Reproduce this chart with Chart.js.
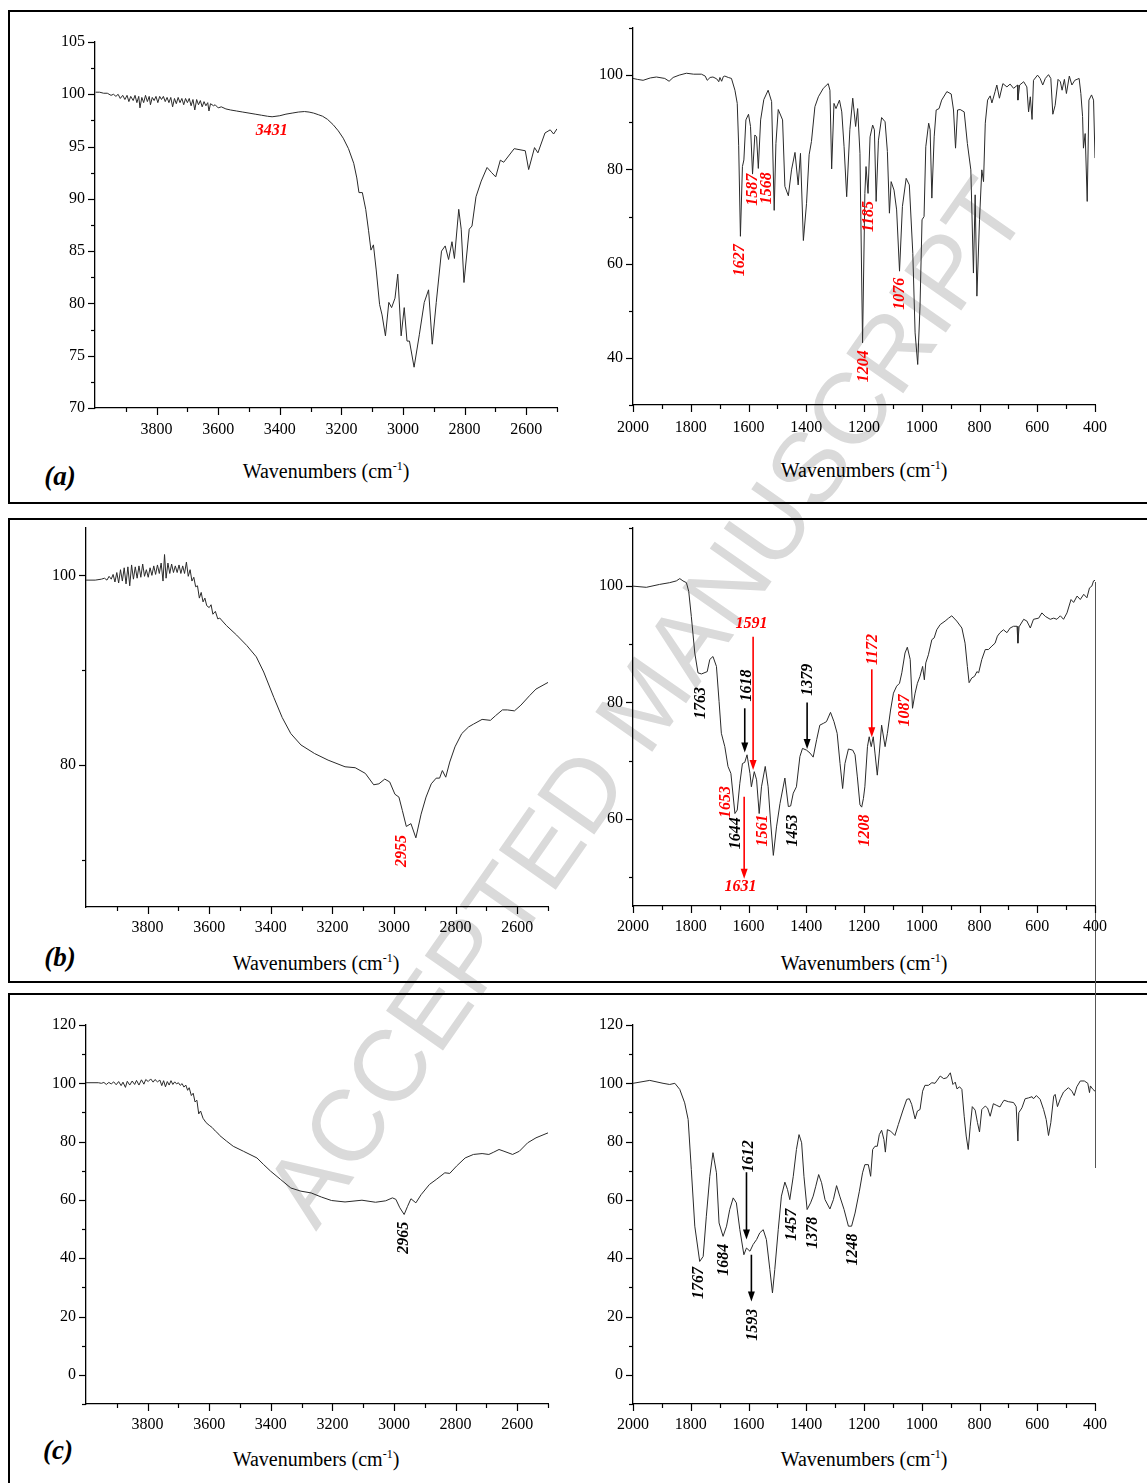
<!DOCTYPE html>
<html>
<head>
<meta charset="utf-8">
<script src="https://cdn.jsdelivr.net/npm/chart.js@4.4.1/dist/chart.umd.min.js"></script>
<style>
  body { margin: 0; width: 1147px; height: 1483px; position: relative; overflow: hidden; background: #fff; font-family: "Liberation Serif", serif; }
  .box { position: absolute; border: 2.5px solid #000; box-sizing: border-box; }
  canvas { position: absolute; }
  .title { position: absolute; font-size: 20px; white-space: nowrap; transform: translate(-50%, -50%); color: #000; }
  .title sup { font-size: 12px; }
  .tag { position: absolute; font: italic bold 27px "Liberation Serif", serif; transform: translate(-50%, -50%); }
  .wm { position: absolute; left: 645px; top: 702px; transform: translate(-50%, -50%) rotate(-55deg); font: 101px "Liberation Sans", sans-serif; color: #dadada; white-space: nowrap; }
  .artifact { position: absolute; left: 1095px; top: 582px; width: 1px; height: 586px; background: #555; }
</style>
</head>
<body>
<div class="wm">ACCEPTED MANUSCRIPT</div>
<div class="box" style="left:8px; top:10px; width:1150px; height:494px;"></div>
<div class="box" style="left:8px; top:518px; width:1150px; height:465px;"></div>
<div class="box" style="left:8px; top:993px; width:1150px; height:500px;"></div>
<div class="artifact"></div>

<div class="tag" style="left:60px; top:476px;">(a)</div>
<div class="tag" style="left:60px; top:957px;">(b)</div>
<div class="tag" style="left:58px; top:1450px;">(c)</div>

<div class="title" style="left:326px; top:471px;">Wavenumbers (cm<sup>-1</sup>)</div>
<div class="title" style="left:864px; top:470px;">Wavenumbers (cm<sup>-1</sup>)</div>
<div class="title" style="left:316px; top:963px;">Wavenumbers (cm<sup>-1</sup>)</div>
<div class="title" style="left:864px; top:963px;">Wavenumbers (cm<sup>-1</sup>)</div>
<div class="title" style="left:316px; top:1459px;">Wavenumbers (cm<sup>-1</sup>)</div>
<div class="title" style="left:864px; top:1459px;">Wavenumbers (cm<sup>-1</sup>)</div>

<script>
// spectra: [wavenumber, transmittance]
const specALeft = [[3998,100.2],[3985,100.2],[3972,100.1],[3960,100.1],[3948,99.9],[3940,100.0],[3932,99.8],[3925,100.0],[3918,99.6],[3910,99.9],[3903,99.5],[3896,99.9],[3890,99.3],[3884,99.8],[3876,99.4],[3870,99.9],[3864,99.2],[3858,99.8],[3854,98.7],[3848,99.7],[3842,99.2],[3836,99.9],[3830,99.3],[3824,99.8],[3820,99.0],[3814,99.7],[3808,99.4],[3802,99.8],[3796,99.2],[3790,99.8],[3784,99.5],[3778,99.8],[3772,99.3],[3766,99.7],[3760,99.2],[3754,99.7],[3748,98.8],[3742,99.6],[3736,99.1],[3730,99.7],[3724,99.2],[3718,99.6],[3712,99.0],[3706,99.6],[3700,99.2],[3694,99.6],[3688,98.9],[3682,99.5],[3676,98.5],[3670,99.5],[3664,99.0],[3658,99.4],[3652,98.8],[3646,99.3],[3640,98.9],[3634,99.2],[3630,98.4],[3625,99.1],[3615,98.9],[3610,99.0],[3600,98.7],[3590,98.8],[3575,98.6],[3560,98.5],[3540,98.4],[3520,98.3],[3500,98.2],[3480,98.1],[3460,98.0],[3440,97.9],[3425,97.85],[3400,97.95],[3380,98.1],[3360,98.2],[3340,98.3],[3320,98.35],[3305,98.3],[3290,98.2],[3275,98.05],[3261,97.9],[3245,97.6],[3227,97.1],[3210,96.5],[3194,95.8],[3177,94.8],[3160,93.4],[3150,92.0],[3143,90.6],[3132,90.6],[3121,89.0],[3112,87.0],[3104,85.1],[3096,85.6],[3087,83.2],[3076,79.9],[3068,78.9],[3057,76.9],[3046,80.1],[3037,79.6],[3026,80.5],[3017,82.8],[3006,76.9],[2996,79.6],[2987,76.4],[2979,76.4],[2964,73.9],[2947,77.0],[2931,80.1],[2917,81.3],[2905,76.1],[2892,80.1],[2875,85.0],[2863,85.5],[2852,84.2],[2841,85.9],[2833,84.3],[2819,89.0],[2811,87.1],[2802,82.0],[2785,87.1],[2776,87.4],[2763,90.2],[2746,91.7],[2727,93.0],[2712,92.5],[2699,92.1],[2684,93.7],[2673,93.5],[2639,94.8],[2603,94.6],[2592,92.8],[2573,94.9],[2562,94.4],[2539,96.3],[2522,96.6],[2511,96.2],[2500,96.7]];

const specARight = [[2000,99.3],[1985,99.1],[1965,98.9],[1940,99.4],[1919,99.6],[1890,99.3],[1875,98.7],[1861,99.5],[1840,100.0],[1815,100.4],[1790,100.2],[1763,100.2],[1750,99.8],[1743,98.9],[1733,99.5],[1723,99.6],[1710,99.2],[1703,98.6],[1699,99.5],[1693,98.7],[1687,99.7],[1682,99.8],[1670,99.5],[1659,99.3],[1647,96.8],[1639,94.0],[1634,85.0],[1628,65.8],[1621,80.6],[1616,82.0],[1609,90.5],[1600,91.7],[1593,89.1],[1586,79.0],[1578,87.3],[1572,86.9],[1566,80.2],[1558,90.5],[1547,94.8],[1532,96.8],[1520,94.4],[1511,71.3],[1505,85.5],[1497,92.7],[1482,90.5],[1474,76.4],[1462,74.4],[1451,79.9],[1439,83.6],[1428,76.7],[1420,83.4],[1410,64.9],[1399,72.8],[1390,83.1],[1382,85.9],[1370,93.3],[1358,95.4],[1341,97.2],[1324,98.2],[1318,96.8],[1312,80.1],[1304,94.0],[1297,92.9],[1285,94.7],[1277,92.2],[1269,84.8],[1260,74.2],[1249,88.4],[1239,95.1],[1229,89.1],[1222,92.9],[1214,83.4],[1205,43.2],[1197,74.9],[1193,80.6],[1186,74.9],[1179,86.9],[1170,89.4],[1164,88.4],[1158,73.2],[1150,86.2],[1139,91.0],[1127,90.1],[1119,83.8],[1112,70.7],[1106,77.4],[1096,75.6],[1087,71.4],[1077,58.4],[1067,72.1],[1054,78.1],[1043,76.7],[1031,62.2],[1023,45.3],[1014,38.6],[1006,51.0],[999,69.3],[992,70.0],[986,84.8],[976,89.8],[971,88.4],[965,73.9],[957,86.9],[950,92.6],[940,92.9],[931,94.7],[913,96.5],[898,96.0],[890,92.6],[883,84.5],[876,92.6],[867,92.7],[853,92.2],[842,85.5],[830,79.9],[821,58.0],[815,74.6],[809,53.1],[800,69.3],[792,79.9],[786,77.4],[780,89.8],[772,94.7],[763,95.6],[757,94.1],[746,96.5],[740,97.9],[731,95.1],[719,98.2],[705,97.5],[694,98.1],[682,97.2],[668,97.9],[667,94.7],[661,97.9],[647,98.6],[636,97.5],[630,92.2],[624,95.4],[618,90.6],[613,98.9],[599,100.0],[590,99.3],[581,97.9],[572,99.3],[561,100.1],[553,99.3],[546,91.7],[538,93.6],[528,99.1],[520,98.6],[514,96.8],[506,99.1],[499,96.1],[489,99.8],[480,97.9],[470,98.9],[455,99.3],[449,96.1],[443,91.2],[440,84.5],[434,87.6],[427,73.2],[421,94.7],[412,95.8],[405,94.7],[400,82.4]];

const specBLeft = [[4000,99.5],[3970,99.5],[3950,99.6],[3940,99.7],[3932,99.5],[3925,99.9],[3918,99.6],[3912,100.1],[3906,99.3],[3900,100.3],[3894,99.2],[3888,100.6],[3882,99.4],[3876,100.8],[3870,99.1],[3864,100.9],[3858,98.9],[3852,101.1],[3846,99.6],[3840,100.9],[3834,99.7],[3828,101.0],[3822,99.8],[3816,101.2],[3810,99.9],[3804,100.6],[3798,99.8],[3792,100.8],[3786,100.0],[3780,101.0],[3774,100.1],[3768,101.1],[3762,100.2],[3756,101.3],[3750,99.4],[3745,102.2],[3740,99.7],[3734,101.3],[3728,100.2],[3722,101.2],[3716,100.3],[3710,101.0],[3704,100.3],[3698,101.1],[3692,100.2],[3686,101.0],[3680,100.2],[3674,101.4],[3668,99.9],[3662,100.6],[3656,99.4],[3650,99.8],[3644,98.8],[3638,98.9],[3632,97.6],[3626,98.2],[3620,97.2],[3614,97.6],[3608,96.8],[3600,96.6],[3594,96.9],[3588,95.9],[3580,96.2],[3572,95.4],[3566,95.5],[3544,94.7],[3511,93.7],[3478,92.6],[3447,91.4],[3423,89.8],[3390,87.1],[3363,85.0],[3335,83.3],[3302,82.1],[3258,81.2],[3214,80.5],[3159,79.8],[3126,79.7],[3093,79.1],[3066,77.9],[3049,78.0],[3030,78.5],[3014,78.2],[2997,76.9],[2984,76.6],[2973,75.2],[2960,73.5],[2945,73.8],[2929,72.3],[2912,74.8],[2896,76.6],[2879,78.0],[2863,78.6],[2852,78.6],[2843,79.4],[2832,78.7],[2819,80.3],[2802,81.9],[2780,83.3],[2758,84.0],[2742,84.3],[2714,84.8],[2687,84.7],[2670,85.2],[2648,85.8],[2632,85.8],[2609,85.7],[2588,86.3],[2560,87.3],[2539,88.0],[2500,88.7]];

const specBRight = [[2000,100.0],[1954,99.8],[1908,100.3],[1873,100.6],[1850,100.9],[1838,101.3],[1827,100.9],[1815,100.6],[1807,99.1],[1798,94.8],[1786,88.5],[1775,85.1],[1763,84.9],[1743,85.3],[1734,87.4],[1723,87.9],[1711,86.2],[1702,80.2],[1694,74.7],[1682,72.4],[1671,69.0],[1661,67.8],[1647,60.9],[1639,61.5],[1630,66.1],[1621,69.5],[1613,69.7],[1605,71.0],[1595,67.8],[1590,65.5],[1580,68.1],[1572,66.7],[1563,60.9],[1555,65.5],[1542,69.0],[1532,65.5],[1524,59.8],[1514,53.7],[1503,58.6],[1491,62.6],[1474,67.0],[1462,62.1],[1454,62.2],[1445,64.4],[1434,65.5],[1422,70.7],[1413,72.1],[1399,71.8],[1387,71.3],[1376,70.6],[1364,73.6],[1353,76.1],[1341,76.4],[1330,76.7],[1316,78.3],[1304,76.7],[1293,74.7],[1283,69.5],[1274,65.2],[1266,69.5],[1254,72.0],[1239,71.8],[1231,71.0],[1223,67.2],[1214,62.4],[1208,62.0],[1202,63.5],[1197,65.5],[1188,72.4],[1182,74.1],[1175,72.4],[1168,74.1],[1162,71.3],[1154,67.5],[1147,71.3],[1139,76.1],[1127,72.4],[1119,74.7],[1108,78.7],[1098,81.6],[1087,82.8],[1077,83.3],[1069,85.1],[1058,88.5],[1050,89.5],[1040,87.4],[1032,79.0],[1023,81.6],[1015,83.3],[1006,84.5],[997,86.2],[991,83.9],[986,86.8],[977,88.2],[965,90.8],[957,91.1],[948,92.5],[936,93.4],[919,94.0],[907,94.5],[896,94.9],[879,94.0],[861,92.8],[850,90.2],[842,86.2],[836,83.4],[827,84.2],[817,84.5],[809,85.3],[803,85.1],[792,87.4],[780,89.1],[769,89.1],[757,89.7],[746,90.2],[738,91.4],[729,92.0],[717,92.5],[705,92.0],[694,92.8],[682,93.1],[670,93.1],[667,90.2],[663,93.0],[647,94.3],[636,94.0],[624,92.8],[613,94.3],[595,94.5],[584,95.4],[572,94.8],[555,94.3],[543,94.5],[532,94.3],[520,94.9],[509,94.3],[497,95.4],[483,97.7],[474,97.2],[462,98.3],[451,97.7],[439,98.6],[428,98.0],[419,99.7],[411,100.0],[405,100.9],[400,101.0]];

const specCLeft = [[4000,100.2],[3960,100.2],[3950,100.0],[3942,100.3],[3934,99.6],[3926,100.3],[3918,99.8],[3910,100.5],[3902,99.5],[3894,100.6],[3886,99.2],[3880,100.4],[3872,98.6],[3866,100.7],[3858,99.4],[3850,100.8],[3842,99.6],[3836,101.0],[3828,99.4],[3820,101.2],[3812,99.7],[3806,101.3],[3798,100.6],[3790,101.5],[3782,100.4],[3776,101.3],[3768,100.5],[3760,101.1],[3754,99.2],[3748,100.9],[3742,98.8],[3736,100.6],[3730,99.4],[3724,100.9],[3718,99.6],[3712,100.5],[3706,99.8],[3700,100.2],[3694,99.3],[3688,99.9],[3682,98.7],[3676,99.4],[3670,97.6],[3665,98.5],[3658,95.8],[3652,96.6],[3646,93.6],[3640,94.2],[3634,89.5],[3628,90.5],[3620,88.0],[3610,86.5],[3600,85.6],[3590,84.8],[3580,83.6],[3572,82.9],[3566,82.1],[3544,80.2],[3522,78.4],[3489,76.7],[3445,74.4],[3423,72.1],[3401,69.9],[3368,67.0],[3335,64.1],[3302,63.0],[3269,62.4],[3236,61.0],[3203,59.8],[3159,59.3],[3104,59.9],[3060,59.2],[3027,59.7],[3005,60.7],[2994,60.2],[2981,57.3],[2967,55.0],[2956,57.8],[2945,60.4],[2929,59.0],[2912,61.8],[2885,65.3],[2863,67.0],[2835,69.3],[2819,69.1],[2797,71.6],[2769,74.4],[2742,75.6],[2714,75.9],[2692,75.6],[2676,76.4],[2659,77.3],[2643,76.7],[2615,75.6],[2593,76.7],[2566,79.6],[2539,81.3],[2500,83.0]];

const specCRight = [[2000,100.0],[1942,101.0],[1896,100.0],[1873,99.6],[1855,100.0],[1838,97.9],[1821,93.3],[1809,87.6],[1798,70.4],[1786,51.0],[1769,38.9],[1757,40.6],[1746,54.4],[1734,68.1],[1723,76.2],[1711,69.3],[1702,52.1],[1688,47.5],[1676,51.0],[1665,56.7],[1653,60.7],[1642,59.0],[1630,49.8],[1616,41.2],[1607,43.5],[1595,42.4],[1584,44.7],[1572,46.4],[1561,48.7],[1549,49.8],[1538,46.4],[1526,36.1],[1517,28.1],[1509,36.1],[1497,49.8],[1486,61.3],[1474,66.1],[1465,63.6],[1457,60.1],[1445,68.1],[1434,77.3],[1425,82.4],[1416,79.6],[1408,68.1],[1397,56.7],[1385,59.0],[1376,61.3],[1367,64.7],[1357,68.7],[1347,65.9],[1335,60.1],[1318,56.9],[1306,60.1],[1295,64.9],[1284,61.3],[1269,56.7],[1254,51.0],[1243,51.0],[1231,55.5],[1216,63.0],[1205,69.3],[1197,72.1],[1185,72.1],[1177,68.1],[1170,77.3],[1162,78.4],[1154,78.4],[1147,82.4],[1139,83.9],[1131,80.7],[1126,76.4],[1119,84.1],[1108,83.6],[1093,82.1],[1081,85.9],[1066,90.5],[1052,94.5],[1043,94.7],[1035,92.8],[1023,87.8],[1015,90.5],[1006,91.0],[997,97.3],[989,99.3],[977,99.3],[965,100.2],[954,100.0],[936,102.5],[924,101.6],[913,101.9],[901,103.6],[892,99.6],[884,100.4],[878,98.1],[869,98.8],[861,97.9],[853,88.7],[846,81.9],[839,77.3],[832,85.3],[825,92.0],[815,90.8],[807,86.5],[800,83.3],[792,91.0],[780,92.2],[772,91.5],[763,88.7],[752,93.0],[740,92.4],[729,91.9],[723,93.0],[715,94.2],[700,93.7],[682,93.4],[673,92.0],[667,80.2],[664,89.9],[653,91.6],[642,94.7],[630,95.0],[618,95.4],[613,94.7],[603,95.8],[590,94.5],[578,91.0],[569,87.6],[561,82.1],[553,86.5],[543,95.6],[538,96.2],[530,92.0],[520,94.7],[509,97.0],[492,98.5],[480,97.3],[472,95.8],[463,98.8],[451,100.8],[437,100.8],[425,100.0],[419,96.8],[416,99.1],[407,97.9],[400,97.3]];

// tick labels
const highWnLabels = [3800, 3600, 3400, 3200, 3000, 2800, 2600];
const lowWnLabels = [2000, 1800, 1600, 1400, 1200, 1000, 800, 600, 400];
const aLeftYLabels = [70, 75, 80, 85, 90, 95, 100, 105];
const aRightYLabels = [40, 60, 80, 100];
const bLeftYLabels = [80, 100];
const bRightYLabels = [60, 80, 100];
const cYLabels = [0, 20, 40, 60, 80, 100, 120];

// peak labels and arrows
const RED = '#ff0000', BLACK = '#000';
const notesALeft = [{t: '3431', x: 3426, y: 96.5, c: RED, rot: false}];
const notesARight = [
  {t: '1627', x: 1630, y: 60.7, c: RED, rot: true},
  {t: '1587', x: 1586, y: 75.7, c: RED, rot: true},
  {t: '1568', x: 1535, y: 76.0, c: RED, rot: true},
  {t: '1185', x: 1182, y: 70.0, c: RED, rot: true},
  {t: '1204', x: 1202, y: 38.2, c: RED, rot: true},
  {t: '1076', x: 1075, y: 53.6, c: RED, rot: true}
];
const notesBLeft = [{t: '2955', x: 2975, y: 70.9, c: RED, rot: true}];
const notesBRight = [
  {t: '1591', x: 1590, y: 93.6, c: RED, rot: false},
  {t: '1618', x: 1607, y: 82.9, c: BLACK, rot: true},
  {t: '1763', x: 1765, y: 79.9, c: BLACK, rot: true},
  {t: '1653', x: 1679, y: 62.9, c: RED, rot: true},
  {t: '1644', x: 1645, y: 57.5, c: BLACK, rot: true},
  {t: '1631', x: 1628, y: 48.3, c: RED, rot: false},
  {t: '1561', x: 1551, y: 58.0, c: RED, rot: true},
  {t: '1453', x: 1445, y: 58.0, c: BLACK, rot: true},
  {t: '1379', x: 1393, y: 83.9, c: BLACK, rot: true},
  {t: '1208', x: 1197, y: 58.0, c: RED, rot: true},
  {t: '1172', x: 1170, y: 89.1, c: RED, rot: true},
  {t: '1087', x: 1060, y: 78.6, c: RED, rot: true}
];
const arrowsBRight = [
  {x: 1584, from: 91.3, to: 68.4, c: RED},
  {x: 1613, from: 79.0, to: 71.4, c: BLACK},
  {x: 1615, from: 63.8, to: 49.7, c: RED},
  {x: 1397, from: 80.0, to: 72.0, c: BLACK},
  {x: 1173, from: 85.7, to: 74.0, c: RED}
];
const notesCLeft = [{t: '2965', x: 2967, y: 47.0, c: BLACK, rot: true}];
const notesCRight = [
  {t: '1767', x: 1771, y: 31.5, c: BLACK, rot: true},
  {t: '1684', x: 1686, y: 39.5, c: BLACK, rot: true},
  {t: '1612', x: 1598, y: 75.0, c: BLACK, rot: true},
  {t: '1593', x: 1584, y: 17.2, c: BLACK, rot: true},
  {t: '1457', x: 1451, y: 51.5, c: BLACK, rot: true},
  {t: '1378', x: 1376, y: 48.7, c: BLACK, rot: true},
  {t: '1248', x: 1237, y: 43.0, c: BLACK, rot: true}
];
const arrowsCRight = [
  {x: 1607, from: 69.5, to: 46.4, c: BLACK},
  {x: 1590, from: 41.2, to: 25.2, c: BLACK}
];

Chart.defaults.font.family = '"Liberation Serif", serif';
Chart.defaults.color = '#000';

function stepTicks(min, max, step) {
  const out = [];
  for (let v = min; v <= max + 1e-9; v += step) out.push(Math.round(v * 100) / 100);
  return out;
}

// outward tick marks, peak labels and arrows
const decor = {
  id: 'decor',
  afterDraw(chart, args, opts) {
    const {ctx} = chart;
    const x = chart.scales.x, y = chart.scales.y;
    ctx.save();
    ctx.strokeStyle = '#000';
    ctx.lineWidth = 1.2;
    x.ticks.forEach(t => {
      const px = Math.round(x.getPixelForValue(t.value)) + 0.5;
      const len = t.label ? 7 : 4;
      ctx.beginPath(); ctx.moveTo(px, x.top); ctx.lineTo(px, x.top + len); ctx.stroke();
    });
    y.ticks.forEach(t => {
      const py = Math.round(y.getPixelForValue(t.value)) + 0.5;
      const len = t.label ? 7 : 4;
      ctx.beginPath(); ctx.moveTo(y.right, py); ctx.lineTo(y.right - len, py); ctx.stroke();
    });
    (opts.arrows || []).forEach(a => {
      const px = x.getPixelForValue(a.x);
      const y1 = y.getPixelForValue(a.from), y2 = y.getPixelForValue(a.to);
      ctx.strokeStyle = a.c; ctx.fillStyle = a.c; ctx.lineWidth = 1.6;
      ctx.beginPath(); ctx.moveTo(px, y1); ctx.lineTo(px, y2 - 8); ctx.stroke();
      ctx.beginPath(); ctx.moveTo(px - 3.5, y2 - 10); ctx.lineTo(px + 3.5, y2 - 10); ctx.lineTo(px, y2); ctx.closePath(); ctx.fill();
    });
    (opts.notes || []).forEach(n => {
      ctx.save();
      ctx.translate(x.getPixelForValue(n.x), y.getPixelForValue(n.y));
      if (n.rot) ctx.rotate(-Math.PI / 2);
      ctx.font = 'italic bold 16px "Liberation Serif", serif';
      ctx.fillStyle = n.c;
      ctx.textAlign = 'center';
      ctx.textBaseline = 'middle';
      ctx.fillText(n.t, 0, 0);
      ctx.restore();
    });
    ctx.restore();
  }
};

function makeChart(p) {
  const [L, T, R, B] = p.rect;
  const padTop = 24, padRight = 30, yW = 62, xH = 46;
  const cv = document.createElement('canvas');
  cv.width = R - L + yW + padRight;
  cv.height = B - T + padTop + xH;
  cv.style.left = (L - yW) + 'px';
  cv.style.top = (T - padTop) + 'px';
  document.body.appendChild(cv);

  new Chart(cv.getContext('2d'), {
    type: 'line',
    data: {
      datasets: [{
        data: p.spec.map(([wn, t]) => ({x: wn, y: t})),
        borderColor: '#2a2a2a',
        borderWidth: 1,
        pointRadius: 0,
        tension: 0,
        fill: false
      }]
    },
    options: {
      responsive: false,
      animation: false,
      events: [],
      layout: {padding: {top: padTop, right: padRight, left: 0, bottom: 0}},
      plugins: {legend: {display: false}, tooltip: {enabled: false}, decor: {notes: p.notes, arrows: p.arrows}},
      scales: {
        x: {
          type: 'linear', reverse: true, min: p.xMin, max: p.xMax,
          afterFit: s => { s.height = xH; },
          afterBuildTicks: s => { s.ticks = p.xTicks.map(v => ({value: v})); },
          grid: {display: false, drawTicks: false},
          border: {display: true, color: '#000', width: 1.3},
          ticks: {
            padding: p.xPad, autoSkip: false, maxRotation: 0, color: '#000',
            font: {size: 16},
            callback: v => p.xLabels.includes(v) ? String(v) : ''
          }
        },
        y: {
          type: 'linear', min: p.yMin, max: p.yMax,
          afterFit: s => { s.width = yW; },
          afterBuildTicks: s => { s.ticks = p.yTicks.map(v => ({value: v})); },
          grid: {display: false, drawTicks: false},
          border: {display: true, color: '#000', width: 1.3},
          ticks: {
            padding: 10, autoSkip: false, color: '#000',
            font: {size: 16},
            callback: v => p.yLabels.includes(v) ? String(v) : ''
          }
        }
      }
    },
    plugins: [decor]
  });
}

const panels = [
  {rect: [95, 42, 557, 408], spec: specALeft, xMin: 2500, xMax: 4000, xTicks: stepTicks(2500, 3900, 100), xLabels: highWnLabels,
   yMin: 70, yMax: 105, yTicks: stepTicks(70, 105, 2.5), yLabels: aLeftYLabels, notes: notesALeft, xPad: 12},
  {rect: [633, 28, 1095, 405], spec: specARight, xMin: 400, xMax: 2000, xTicks: stepTicks(400, 2000, 100), xLabels: lowWnLabels,
   yMin: 30, yMax: 110, yTicks: stepTicks(30, 110, 10), yLabels: aRightYLabels, notes: notesARight, xPad: 13},
  {rect: [86, 528, 548, 907], spec: specBLeft, xMin: 2500, xMax: 4000, xTicks: stepTicks(2500, 3900, 100), xLabels: highWnLabels,
   yMin: 65, yMax: 105, yTicks: stepTicks(70, 100, 10), yLabels: bLeftYLabels, notes: notesBLeft, xPad: 11},
  {rect: [633, 528, 1095, 906], spec: specBRight, xMin: 400, xMax: 2000, xTicks: stepTicks(400, 2000, 100), xLabels: lowWnLabels,
   yMin: 45, yMax: 110, yTicks: stepTicks(50, 110, 10), yLabels: bRightYLabels, notes: notesBRight, arrows: arrowsBRight, xPad: 11},
  {rect: [86, 1025, 548, 1404], spec: specCLeft, xMin: 2500, xMax: 4000, xTicks: stepTicks(2500, 3900, 100), xLabels: highWnLabels,
   yMin: -10, yMax: 120, yTicks: stepTicks(-10, 120, 10), yLabels: cYLabels, notes: notesCLeft, xPad: 11},
  {rect: [633, 1025, 1095, 1404], spec: specCRight, xMin: 400, xMax: 2000, xTicks: stepTicks(400, 2000, 100), xLabels: lowWnLabels,
   yMin: -10, yMax: 120, yTicks: stepTicks(-10, 120, 10), yLabels: cYLabels, notes: notesCRight, arrows: arrowsCRight, xPad: 11}
];

panels.forEach(makeChart);
</script>
</body>
</html>
